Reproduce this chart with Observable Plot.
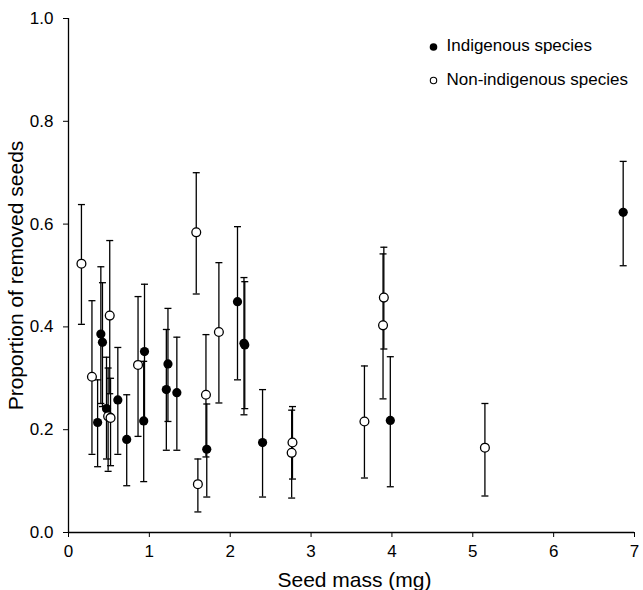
<!DOCTYPE html>
<html>
<head>
<meta charset="utf-8">
<script src="https://cdn.jsdelivr.net/npm/d3@7"></script>
<script src="https://cdn.jsdelivr.net/npm/@observablehq/plot@0.6"></script>
<style>
  html, body { margin: 0; padding: 0; background: #fff; }
  #chart { width: 643px; height: 590px; overflow: hidden; }
</style>
</head>
<body>
<div id="chart"></div>
<script>
// Indigenous species (filled circles)
const indigX  = [0.40, 0.42, 0.36, 0.47, 0.61, 0.72, 0.94, 0.93, 1.23, 1.21, 1.34, 1.71, 2.09, 2.17, 2.18, 2.40, 3.98, 6.86];
const indigY  = [0.386, 0.370, 0.214, 0.241, 0.258, 0.181, 0.352, 0.217, 0.328, 0.278, 0.272, 0.162, 0.449, 0.368, 0.365, 0.175, 0.218, 0.623];
const indigLo = [0.251, 0.245, 0.128, 0.143, 0.152, 0.091, 0.220, 0.099, 0.216, 0.160, 0.160, 0.069, 0.297, 0.229, 0.241, 0.069, 0.089, 0.519];
const indigHi = [0.517, 0.486, 0.297, 0.341, 0.360, 0.268, 0.483, 0.333, 0.436, 0.395, 0.380, 0.250, 0.595, 0.496, 0.488, 0.278, 0.342, 0.722];

// Non-indigenous species (open circles)
const nonX  = [0.16, 0.51, 0.29, 0.49, 0.52, 0.86, 1.60, 1.58, 1.70, 1.86, 2.77, 2.76, 3.66, 3.90, 3.89, 5.15];
const nonY  = [0.523, 0.422, 0.303, 0.226, 0.223, 0.326, 0.094, 0.584, 0.268, 0.390, 0.175, 0.155, 0.216, 0.457, 0.403, 0.165];
const nonLo = [0.405, 0.270, 0.152, 0.119, 0.130, 0.187, 0.040, 0.464, 0.147, 0.252, 0.104, 0.067, 0.106, 0.357, 0.260, 0.071];
const nonHi = [0.638, 0.568, 0.451, 0.320, 0.300, 0.459, 0.143, 0.700, 0.385, 0.525, 0.245, 0.238, 0.324, 0.555, 0.542, 0.251];

const xTicks = [0, 1, 2, 3, 4, 5, 6, 7];
const yTicks = [0, 0.2, 0.4, 0.6, 0.8, 1.0];
const xLabel = "Seed mass (mg)";
const yLabel = "Proportion of removed seeds";
const legendLabels = ["Indigenous species", "Non-indigenous species"];

const indig = indigX.map((x, i) => ({x, y: indigY[i], lo: indigLo[i], hi: indigHi[i]}));
const non = nonX.map((x, i) => ({x, y: nonY[i], lo: nonLo[i], hi: nonHi[i]}));
const all = [...indig, ...non];

const cap = {
  draw(ctx, size) {
    const w = Math.sqrt(size / Math.PI);
    ctx.moveTo(-w, 0);
    ctx.lineTo(w, 0);
  }
};

const chart = Plot.plot({
  width: 643,
  height: 590,
  marginLeft: 68,
  marginRight: 9,
  marginTop: 18,
  marginBottom: 58,
  style: {fontFamily: "'Liberation Sans', Arial, sans-serif", color: "#000", background: "#fff", overflow: "hidden"},
  x: {domain: [0, 7]},
  y: {domain: [0, 1]},
  marks: [
    Plot.axisX({ticks: xTicks, tickSize: 5, tickPadding: 7, fontSize: 17, tickFormat: d => String(d), label: null}),
    Plot.axisY({ticks: yTicks, tickSize: 5, tickPadding: 10, fontSize: 17, tickFormat: d3.format(".1f"), label: null}),
    Plot.ruleY([0], {stroke: "#000", strokeWidth: 1.3}),
    Plot.ruleX([0], {stroke: "#000", strokeWidth: 1.3}),
    Plot.text([xLabel], {text: d => d, frameAnchor: "bottom", dx: 3, dy: 54, textAnchor: "middle", lineAnchor: "bottom", fontSize: 21, fill: "#000"}),
    Plot.text([yLabel], {text: d => d, frameAnchor: "left", dx: -52, rotate: -90, textAnchor: "middle", lineAnchor: "middle", fontSize: 21, fill: "#000"}),
    Plot.ruleX(all, {x: "x", y1: "lo", y2: "hi", stroke: "#000", strokeWidth: 1.3}),
    Plot.dot(all, {x: "x", y: "lo", symbol: cap, r: 3.5, stroke: "#000", fill: "none", strokeWidth: 1.3}),
    Plot.dot(all, {x: "x", y: "hi", symbol: cap, r: 3.5, stroke: "#000", fill: "none", strokeWidth: 1.3}),
    Plot.dot(indig, {x: "x", y: "y", r: 4.6, fill: "#000", stroke: "none"}),
    Plot.dot(non, {x: "x", y: "y", r: 4.4, fill: "#fff", stroke: "#000", strokeWidth: 1.3}),
    // legend
    Plot.dot([legendLabels[0]], {frameAnchor: "top-right", dx: -201, dy: 28.5, r: 3.8, fill: "#000", stroke: "none"}),
    Plot.dot([legendLabels[1]], {frameAnchor: "top-right", dx: -201, dy: 62, r: 3.2, fill: "#fff", stroke: "#000", strokeWidth: 1.1}),
    Plot.text([legendLabels[0]], {text: d => d, frameAnchor: "top-right", dx: -188, dy: 27.5, textAnchor: "start", lineAnchor: "middle", fontSize: 17, fill: "#000"}),
    Plot.text([legendLabels[1]], {text: d => d, frameAnchor: "top-right", dx: -188, dy: 61.5, textAnchor: "start", lineAnchor: "middle", fontSize: 17, fill: "#000"})
  ]
});

document.getElementById("chart").appendChild(chart);
</script>
</body>
</html>
